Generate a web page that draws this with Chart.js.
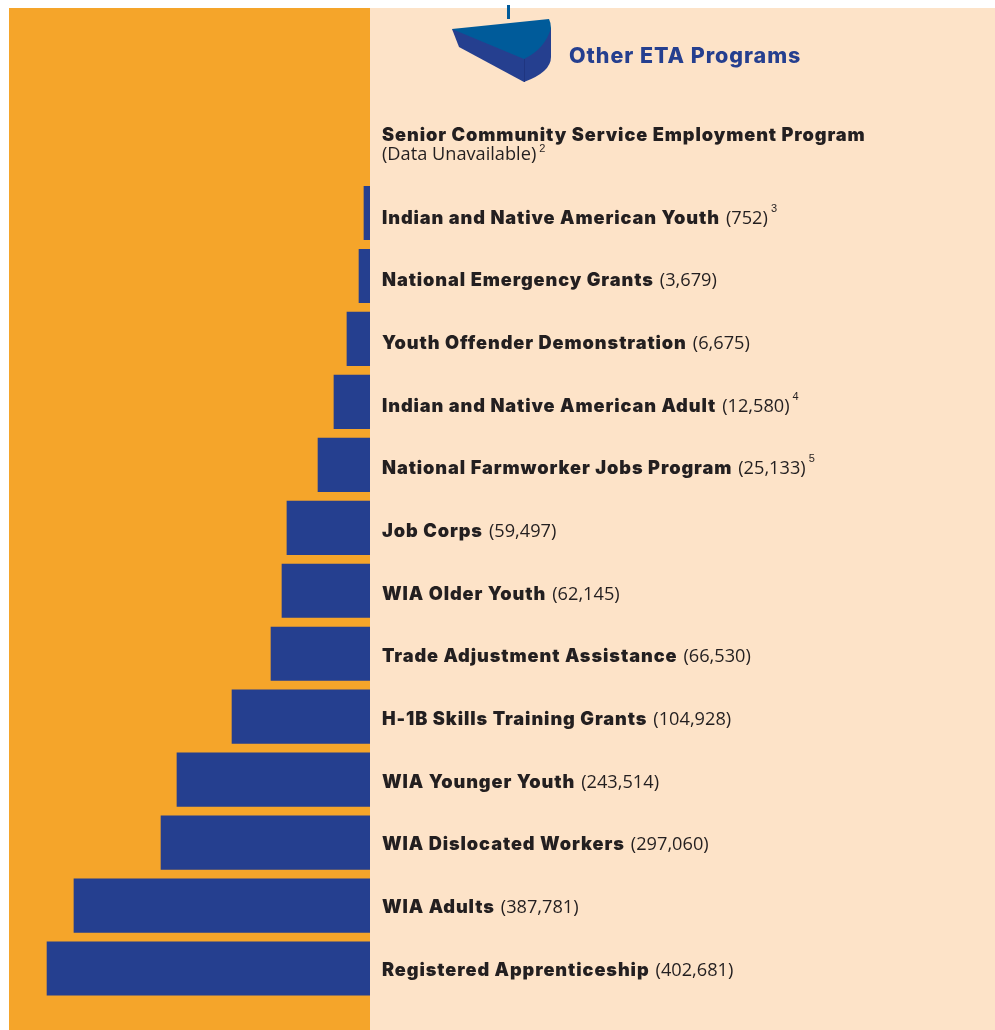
<!DOCTYPE html>
<html>
<head>
<meta charset="utf-8">
<title>Other ETA Programs</title>
<style>
    html, body { margin: 0; padding: 0; background: #fff; }
    canvas { display: block; }
</style>
<script src="https://cdn.jsdelivr.net/npm/chart.js@4"></script>
</head>
<body>
<canvas id="etaChart" width="995" height="1030"></canvas>
<script>
const programs = [
    'Senior Community Service Employment Program',
    'Indian and Native American Youth',
    'National Emergency Grants',
    'Youth Offender Demonstration',
    'Indian and Native American Adult',
    'National Farmworker Jobs Program',
    'Job Corps',
    'WIA Older Youth',
    'Trade Adjustment Assistance',
    'H-1B Skills Training Grants',
    'WIA Younger Youth',
    'WIA Dislocated Workers',
    'WIA Adults',
    'Registered Apprenticeship'
];
// the figures printed next to each program
const printedCounts = [null, 752, 3679, 6675, 12580, 25133, 59497, 62145, 66530, 104928, 243514, 297060, 387781, 402681];
// the bars in the picture are not to scale with the printed figures,
// so their lengths are read off the picture separately
const barLengths = [null, 7500, 13700, 28700, 44900, 64800, 103500, 109700, 123400, 172000, 240600, 260500, 369000, 402600];
const footnotes = ['2', '3', '', '', '4', '5', '', '', '', '', '', '', '', ''];

const title = 'Other ETA Programs';
const noData = '(Data Unavailable)';

const BLUE = '#253f8f';
const INK = '#231f20';
const BOLD = '900 18.2px Inter, "Liberation Sans", sans-serif';
const LIGHT = '400 18.2px "Open Sans", "Liberation Sans", sans-serif';
const NOTE = '400 11px "Liberation Sans", sans-serif';

const background = {
    id: 'background',
    beforeDraw(chart) {
        const ctx = chart.ctx;
        const split = chart.scales.x.right;
        ctx.save();
        ctx.fillStyle = '#f5a52a';
        ctx.fillRect(9, 8, split - 9, chart.height - 8);
        ctx.fillStyle = '#fde3c8';
        ctx.fillRect(split, 8, chart.width - split, chart.height - 8);
        ctx.restore();
    }
};

// the little pie slice and heading at the top of the panel
const heading = {
    id: 'heading',
    afterDraw(chart) {
        const ctx = chart.ctx;
        ctx.save();
        ctx.fillStyle = '#005b9a';
        ctx.fillRect(507, 5, 3, 14);

        ctx.fillStyle = BLUE;
        ctx.beginPath();
        ctx.moveTo(452, 29);
        ctx.lineTo(459, 47);
        ctx.lineTo(524, 82);
        ctx.quadraticCurveTo(551, 72, 551, 57);
        ctx.lineTo(551, 28);
        ctx.closePath();
        ctx.fill();

        ctx.fillStyle = '#005b9a';
        ctx.beginPath();
        ctx.moveTo(452, 29);
        ctx.lineTo(549, 19);
        ctx.quadraticCurveTo(551, 23, 551, 28);
        ctx.quadraticCurveTo(545, 49, 524, 59);
        ctx.closePath();
        ctx.fill();

        ctx.strokeStyle = '#1f3580';
        ctx.beginPath();
        ctx.moveTo(524.5, 59);
        ctx.lineTo(524.5, 82);
        ctx.stroke();

        ctx.fillStyle = BLUE;
        ctx.font = '800 21.5px Inter, "Liberation Sans", sans-serif';
        ctx.letterSpacing = '0.95px';
        ctx.textBaseline = 'alphabetic';
        ctx.fillText(title, 569, 63);
        ctx.restore();
    }
};

const rowLabels = {
    id: 'rowLabels',
    afterDatasetsDraw(chart) {
        const ctx = chart.ctx;
        const textX = chart.scales.x.right + 12;
        ctx.save();
        ctx.textBaseline = 'alphabetic';
        programs.forEach((name, i) => {
            // text rows run at a slightly tighter pitch than the bars
            const base = chart.scales.y.getPixelForValue(i) + 11 - i * 0.29;
            ctx.fillStyle = INK;
            ctx.font = BOLD;
            ctx.letterSpacing = '0.9px';
            ctx.fillText(name, textX, i === 0 ? 141 : base);

            let x, y, text;
            if (printedCounts[i] === null) {
                x = textX;
                y = 160;
                text = noData;
            } else {
                x = textX + ctx.measureText(name).width + 6;
                y = base;
                text = '(' + printedCounts[i].toLocaleString('en-US') + ')';
            }
            ctx.font = LIGHT;
            ctx.letterSpacing = '0px';
            ctx.fillText(text, x, y);

            if (footnotes[i]) {
                const end = x + ctx.measureText(text).width;
                ctx.font = NOTE;
                ctx.fillText(footnotes[i], end + 3, y - (i === 0 ? 8 : 12));
            }
        });
        ctx.restore();
    }
};

new Chart(document.getElementById('etaChart').getContext('2d'), {
    type: 'bar',
    data: {
        labels: programs,
        datasets: [{
            data: barLengths,
            backgroundColor: BLUE,
            borderWidth: 0,
            barThickness: 53.5
        }]
    },
    options: {
        indexAxis: 'y',
        responsive: false,
        animation: false,
        layout: { padding: { left: 9, right: 625, top: 118.6, bottom: 30 } },
        plugins: { legend: { display: false }, tooltip: { enabled: false } },
        scales: {
            x: { display: false, reverse: true, min: 0, max: 450000 },
            y: { display: false, grid: { display: false } }
        }
    },
    plugins: [background, heading, rowLabels]
});
</script>
</body>
</html>
